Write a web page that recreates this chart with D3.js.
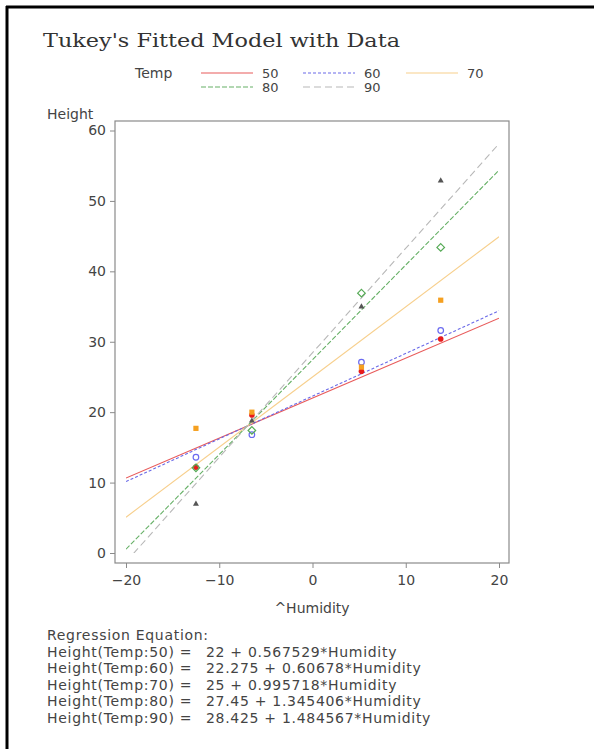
<!DOCTYPE html>
<html><head><meta charset="utf-8">
<script src="https://cdn.jsdelivr.net/npm/d3@7"></script>
<style>
html,body{margin:0;padding:0;background:#fff;}
svg{display:block;}
text{font-family:"DejaVu Sans",sans-serif;fill:#333;}
</style></head>
<body>
<script>
// ---- data ----
const temps = ["50", "60", "70", "80", "90"];
const humidity = [-12.5, -6.5, 5.25, 13.75];
const height50 = [12.2, 19.6, 25.8, 30.4];
const height60 = [13.6, 16.8, 27.1, 31.6];
const height70 = [17.7, 20.0, 26.4, 35.9];
const height80 = [12.1, 17.4, 36.9, 43.4];
const height90 = [7.0, 18.8, 35.0, 52.9];
const intercepts = [22, 22.275, 25, 27.45, 28.425];
const slopes = [0.567529, 0.60678, 0.995718, 1.345406, 1.484567];
const equationLabels = ["22 + 0.567529*Humidity", "22.275 + 0.60678*Humidity", "25 + 0.995718*Humidity", "27.45 + 1.345406*Humidity", "28.425 + 1.484567*Humidity"];
const xTicks = [-20, -10, 0, 10, 20];
const yTicks = [0, 10, 20, 30, 40, 50, 60];
const xDomain = [-20, 20];
const yDomain = [0, 60];

const heights = [height50, height60, height70, height80, height90];

// ---- styles ----
const lineColors = ["#e85a5a", "#6a6ae8", "#f7cf8c", "#66b066", "#b8b8b8"];
const markColors = ["#e81c1c", "#6a6af0", "#f5a020", "#55aa55", "#555555"];
const dashes = [null, "3,2", null, "5,2", "7,4"];

const W = 594, H = 749;
const svg = d3.select("body").append("svg").attr("width", W).attr("height", H);

// outer frame
svg.append("line").attr("x1", 7).attr("y1", 6).attr("x2", 7).attr("y2", H).attr("stroke", "#000").attr("stroke-width", 3);
svg.append("line").attr("x1", 6).attr("y1", 7).attr("x2", W).attr("y2", 7).attr("stroke", "#000").attr("stroke-width", 3);

// title
svg.append("text").attr("x", 43).attr("y", 47)
  .style("font-family", "'DejaVu Serif', serif").style("font-size", "19px").style("fill", "#333")
  .attr("textLength", 357).attr("lengthAdjust", "spacingAndGlyphs")
  .text("Tukey's  Fitted  Model  with  Data");

const x = d3.scaleLinear().domain(xDomain).range([126, 499]);
const y = d3.scaleLinear().domain(yDomain).range([553, 130.5]);

// plot frame
const fx0 = 115, fx1 = 509, fy0 = 121, fy1 = 563;
svg.append("rect").attr("x", fx0).attr("y", fy0).attr("width", fx1 - fx0).attr("height", fy1 - fy0)
  .attr("fill", "none").attr("stroke", "#8a8a8a").attr("stroke-width", 1.2);

// axes
const yAxis = d3.axisLeft(y).tickValues(yTicks).tickSize(5).tickPadding(4).tickSizeOuter(0);
const gy = svg.append("g").attr("transform", `translate(${fx0},0)`).call(yAxis);
gy.select(".domain").remove();
gy.selectAll("line").attr("stroke", "#8a8a8a");
gy.selectAll("text").style("font-size", "14px").style("fill", "#444").style("font-family", "'DejaVu Sans',sans-serif");

const xAxis = d3.axisBottom(x).tickValues(xTicks).tickSize(5).tickPadding(7).tickSizeOuter(0)
  .tickFormat(d => d < 0 ? "\u2212" + Math.abs(d) : d);
const gx = svg.append("g").attr("transform", `translate(0,${fy1})`).call(xAxis);
gx.select(".domain").remove();
gx.selectAll("line").attr("stroke", "#8a8a8a");
gx.selectAll("text").style("font-size", "14px").style("fill", "#444").style("font-family", "'DejaVu Sans',sans-serif");

svg.append("text").attr("x", 47).attr("y", 119).style("font-size", "14px").style("fill", "#444").text("Height");
svg.append("text").attr("x", 312).attr("y", 613).attr("text-anchor", "middle").style("font-size", "14px").style("fill", "#444").text("^Humidity");

// clip
svg.append("clipPath").attr("id", "clip").append("rect")
  .attr("x", x(xDomain[0])).attr("y", y(yDomain[1])).attr("width", x(xDomain[1]) - x(xDomain[0])).attr("height", y(yDomain[0]) - y(yDomain[1]));

const line = d3.line().x(d => x(d[0])).y(d => y(d[1]));
const gl = svg.append("g").attr("clip-path", "url(#clip)");
temps.forEach((t, i) => {
  const pts = xDomain.map(h => [h, intercepts[i] + slopes[i] * h]);
  gl.append("path").datum(pts).attr("d", line).attr("fill", "none")
    .attr("stroke", lineColors[i]).attr("stroke-width", 1.1)
    .attr("stroke-dasharray", dashes[i]);
});

// markers
const gm = svg.append("g");
temps.forEach((t, i) => {
  humidity.forEach((h, j) => {
    const cx = x(h), cy = y(heights[i][j]);
    if (i === 0) {
      gm.append("circle").attr("cx", cx).attr("cy", cy).attr("r", 2.8).attr("fill", markColors[i]);
    } else if (i === 1) {
      gm.append("circle").attr("cx", cx).attr("cy", cy).attr("r", 2.8).attr("fill", "none").attr("stroke", markColors[i]).attr("stroke-width", 1.2);
    } else if (i === 2) {
      gm.append("rect").attr("x", cx - 2.6).attr("y", cy - 2.6).attr("width", 5.2).attr("height", 5.2).attr("fill", markColors[i]);
    } else if (i === 3) {
      gm.append("path").attr("d", `M${cx},${cy - 3.8}L${cx + 3.8},${cy}L${cx},${cy + 3.8}L${cx - 3.8},${cy}Z`)
        .attr("fill", "none").attr("stroke", markColors[i]).attr("stroke-width", 1.2);
    } else {
      gm.append("path").attr("d", `M${cx},${cy - 3.2}L${cx + 3},${cy + 2}L${cx - 3},${cy + 2}Z`).attr("fill", markColors[i]);
    }
  });
});

// legend
svg.append("text").attr("x", 135).attr("y", 78).style("font-size", "14px").style("fill", "#444").text("Temp");
const legPos = [[201, 73], [303, 73], [406, 73], [201, 87], [303, 87]];
temps.forEach((t, i) => {
  const [lx, ly] = legPos[i];
  svg.append("line").attr("x1", lx).attr("x2", lx + 52).attr("y1", ly).attr("y2", ly)
    .attr("stroke", lineColors[i]).attr("stroke-width", 1.1).attr("stroke-dasharray", dashes[i]);
  svg.append("text").attr("x", lx + 61).attr("y", ly + 5).style("font-size", "13px").style("fill", "#444").text(t);
});

// equations
const ey0 = 640, edy = 16.5;
const eqStyle = s => s.style("font-size", "14px").style("letter-spacing", "0.7px").style("fill", "#444");
svg.append("text").attr("x", 47).attr("y", ey0).call(eqStyle).text("Regression Equation:");
temps.forEach((t, i) => {
  const yy = ey0 + edy * (i + 1);
  svg.append("text").attr("x", 47).attr("y", yy).call(eqStyle).text(`Height(Temp:${t}) =`);
  svg.append("text").attr("x", 206).attr("y", yy).call(eqStyle).text(equationLabels[i]);
});
</script>
</body></html>
